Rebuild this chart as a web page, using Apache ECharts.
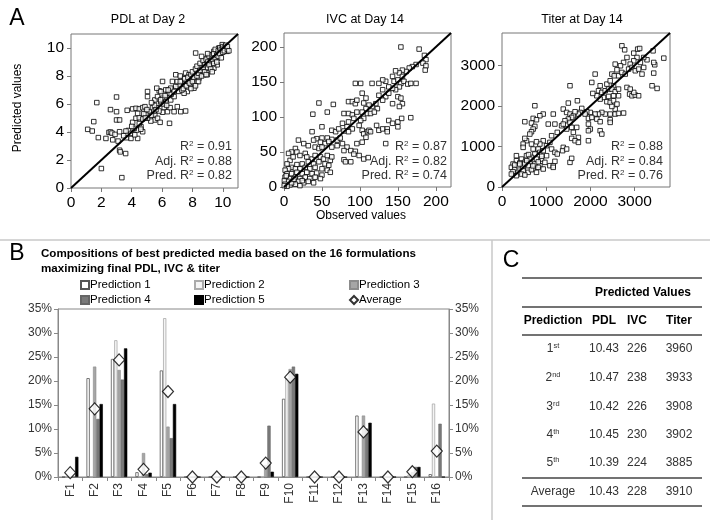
<!DOCTYPE html>
<html><head><meta charset="utf-8">
<script src="https://cdn.jsdelivr.net/npm/echarts@6/dist/echarts.min.js"></script>
<style>html,body{margin:0;padding:0;background:#fff}#c{width:710px;height:520px}</style>
</head><body><div id="c"></div>
<script>
const FONT = '"Liberation Sans", Arial, sans-serif';

// ---- Panel A data: [observed, predicted] ----
const pdlPoints = [
[1.7,6.1],[3.0,6.5],[2.6,5.6],[3.0,5.45],[3.0,4.86],[3.2,4.86],[1.5,4.74],[1.1,4.19],[1.4,4.07],[1.8,3.6],
[2.3,3.54],[2.5,3.97],[2.6,4.0],[2.7,3.92],[2.9,3.83],[3.2,4.02],[2.75,3.44],[3.1,3.35],[3.2,2.7],[3.6,2.46],
[3.25,2.58],[2.0,1.39],[3.35,0.74],[3.7,5.55],[4.06,5.65],[4.28,5.69],[4.5,5.65],[4.72,5.74],[4.87,5.81],[5.04,6.89],
[5.04,6.53],[5.15,5.45],[4.93,5.26],[4.35,4.14],[4.39,3.54],[3.95,3.54],[3.65,3.59],[3.78,4.11],[4.06,4.69],[4.28,4.98],
[4.5,5.02],[4.72,4.93],[4.61,4.38],[4.72,4.02],[4.17,4.26],[3.95,3.9],[3.62,4.07],[3.47,3.73],[4.39,5.33],[5.37,5.74],
[5.52,5.22],[5.52,4.86],[5.7,4.98],[5.65,6.05],[5.52,6.29],[5.7,6.53],[5.81,6.94],[5.65,7.13],[5.92,6.17],[6.03,6.41],
[6.14,5.74],[6.35,5.45],[6.53,5.74],[6.03,5.41],[5.26,4.78],[5.87,4.69],[5.48,5.5],[5.04,4.98],[6.35,6.65],[6.46,6.77],
[6.24,6.17],[6.57,6.29],[6.03,7.61],[6.68,7.61],[6.9,8.09],[6.75,7.01],[7.0,7.13],[6.79,6.53],[6.79,5.45],[7.0,5.81],
[7.23,5.45],[7.55,5.5],[6.49,4.62],[7.23,7.61],[7.34,7.25],[7.55,8.21],[7.66,7.85],[7.66,6.89],[7.45,6.77],[7.88,7.37],
[7.99,7.73],[8.21,8.09],[8.21,9.64],[8.32,7.61],[8.43,8.33],[8.1,7.13],[8.54,8.68],[8.65,8.21],[8.76,9.04],[8.86,8.56],
[8.97,9.28],[8.97,8.09],[9.08,8.8],[9.19,9.52],[9.3,9.04],[9.41,8.56],[9.52,9.76],[9.63,9.28],[9.74,10.0],[9.85,9.64],
[9.96,10.24],[10.07,9.88],[10.17,10.12],[10.28,9.76],[9.63,8.8],[9.41,9.76],[9.19,8.68],[8.76,8.09],[8.43,7.85],[7.77,8.09],
[7.45,7.85],[7.12,7.37],[6.9,7.25],[6.57,7.13],[6.24,7.01],[5.92,6.89],[4.0,4.4],[4.2,3.8],[4.5,4.6],[4.8,5.3],
[5.0,5.6],[5.3,5.2],[5.5,5.9],[5.8,5.5],[6.1,6.0],[6.3,5.9],[6.6,6.7],[6.8,6.9],[7.1,6.9],[7.3,7.0],
[7.0,7.6],[7.2,8.0],[7.5,7.3],[7.8,7.9],[8.0,8.0],[7.9,7.1],[7.6,7.6],[7.2,7.6],[7.4,7.1],[7.5,7.8],
[7.6,7.3],[7.7,7.9],[7.8,7.5],[7.9,8.1],[8.0,7.6],[8.0,8.3],[8.1,7.9],[8.2,8.5],[8.3,8.0],[8.3,8.7],
[8.4,8.2],[8.5,8.9],[8.5,8.4],[8.6,8.0],[8.7,8.6],[8.7,9.1],[8.8,8.3],[8.8,8.8],[8.9,9.2],[9.0,8.6],
[9.0,9.0],[9.1,9.4],[9.1,8.8],[9.2,9.1],[9.2,8.5],[9.3,9.5],[9.3,9.2],[9.4,8.9],[9.4,9.6],[9.5,9.3],
[9.5,9.9],[9.6,9.5],[9.6,9.0],[9.7,9.8],[9.7,9.4],[9.8,10.0],[9.8,9.6],[9.9,9.9],[9.9,9.3],[10.0,10.1],
[10.0,9.7],[10.1,10.0],[10.1,9.8],[10.2,10.2],[10.3,9.9],[10.3,10.1],[10.4,9.8],[9.0,9.6],[8.6,9.4],[8.9,8.1],
[9.3,8.3],[8.4,7.6],[8.2,7.3],[5.3,6.1],[5.9,6.3],[6.2,6.6],[6.4,7.0],[5.6,5.6],[4.9,5.0],[4.6,4.2]
];
const ivcPoints = [
[154,200],[178,197],[185,188],[187,182],[183,177],[187,173],[186,167],[174,175],[169,172],[165,170],
[161,165],[156,167],[152,163],[147,166],[143,158],[145,151],[150,153],[154,148],[158,151],[163,147],
[167,148],[174,148],[156,158],[152,143],[147,139],[143,141],[138,143],[134,151],[130,153],[125,148],
[130,139],[125,131],[134,129],[138,134],[150,129],[154,127],[156,119],[152,115],[143,119],[130,124],
[121,119],[123,112],[116,115],[112,117],[108,112],[110,105],[114,105],[119,107],[103,107],[105,98],
[101,95],[103,81],[105,76],[110,79],[112,81],[114,79],[108,71],[103,64],[122,88],[125,81],
[130,83],[136,83],[138,95],[143,91],[150,93],[155,98],[167,99],[150,86],[136,79],[134,62],
[105,40],[111,42],[105,120],[94,148],[101,148],[116,148],[103,134],[85,122],[90,122],[94,119],
[96,124],[108,127],[46,120],[65,118],[57,107],[38,104],[79,105],[85,105],[90,103],[96,107],
[77,91],[85,93],[92,98],[83,86],[90,83],[99,88],[50,86],[63,81],[68,79],[72,83],
[79,80],[85,79],[37,79],[57,70],[50,70],[63,68],[70,67],[74,70],[54,62],[59,65],
[43,69],[39,67],[48,64],[19,67],[26,62],[32,59],[41,57],[46,55],[50,57],[63,57],
[70,59],[77,62],[83,57],[88,52],[94,51],[79,52],[96,62],[79,39],[81,36],[88,36],
[92,47],[99,45],[15,55],[10,50],[6,48],[17,50],[8,38],[4,33],[12,43],[21,45],
[28,48],[30,43],[37,40],[41,45],[48,43],[52,40],[57,45],[61,38],[63,43],[54,33],
[46,36],[39,33],[32,36],[24,33],[17,32],[10,28],[6,26],[1.5,24],[15,26],[21,26],
[28,28],[34,26],[41,28],[50,26],[57,24],[59,31],[4,19],[10,19],[17,21],[24,19],
[30,21],[37,19],[43,20],[50,17],[61,21],[1.4,14],[8,12],[15,14],[21,12],[28,14],
[34,12],[41,14],[48,12],[0.5,9],[6,8],[12,7],[19,8],[26,6],[32,8],[1.4,4],
[8,3],[15,4],[21,2],[4,1],[0.3,2],[10,6],[39,6],[24,9],[3,16],[13,11]
];
const titerPoints = [
[2712,3484],[2775,3385],[2980,3303],[3069,3402],[3114,3418],[3417,3360],[3660,3180],[3455,3016],[3280,3139],[3205,3196],
[3130,3073],[3053,3196],[2980,3114],[2900,3032],[2826,3196],[2750,3073],[2680,2991],[2600,2892],[2560,3032],[2485,2786],
[2540,2744],[2636,2744],[2712,2827],[2788,2786],[2864,2909],[2940,2950],[3015,2868],[3090,2909],[3167,2786],[3205,2950],
[3432,2810],[3432,3073],[2107,2786],[2372,2539],[2447,2621],[2523,2498],[2220,2498],[2183,2375],[2258,2334],[2334,2375],
[2410,2416],[2485,2416],[2560,2350],[2636,2416],[2636,2251],[2523,2251],[2410,2235],[2296,2210],[2220,2169],[2145,2251],
[2031,2580],[2054,2309],[2826,2457],[2887,2292],[2940,2251],[3015,2268],[3090,2251],[2980,2334],[2900,2416],[3394,2498],
[3508,2432],[2372,2104],[2447,2087],[2523,2128],[2600,2046],[2560,1923],[2485,1988],[2560,1800],[2636,1816],[2750,1825],
[2447,1800],[2334,1800],[2447,1660],[2447,1594],[2258,1840],[2183,1800],[2107,1800],[1997,1840],[1917,1857],[1880,1800],
[1955,1693],[2031,1717],[2145,1676],[2220,1611],[1955,1553],[1997,1430],[1955,1389],[2220,1389],[2258,1306],[1804,1939],
[1766,1840],[1728,1800],[1705,2128],[1538,2498],[1500,2071],[1386,1923],[1462,1840],[1538,1800],[1614,1758],[1652,1857],
[1576,1717],[1500,1676],[1538,1594],[1424,1635],[1348,1512],[1462,1430],[1576,1471],[1690,1471],[1614,1348],[1728,1224],
[1576,1200],[1652,1142],[1728,1101],[1538,608],[1576,707],[1955,1142],[1386,978],[1371,896],[1462,937],[1160,1800],
[1046,1553],[1197,1553],[1386,1553],[1250,1348],[1122,1265],[1083,1101],[1008,1019],[932,1142],[856,1060],[780,1117],
[1122,937],[1197,855],[1250,814],[1083,526],[1159,526],[1197,633],[1159,485],[743,2005],[932,1800],[856,1758],
[705,1693],[780,1660],[516,1611],[667,1578],[743,1495],[705,1430],[667,1364],[630,1306],[554,1142],[516,1200],
[478,1060],[478,978],[667,1060],[705,937],[818,937],[856,855],[743,814],[932,896],[1008,773],[894,690],
[780,690],[667,731],[554,773],[440,690],[326,649],[402,592],[516,608],[630,608],[743,567],[856,526],
[970,608],[250,567],[212,485],[288,444],[364,526],[478,485],[592,526],[705,444],[818,485],[932,444],
[250,378],[364,362],[478,403],[592,362],[667,427],[780,362],[440,320],[516,296],[326,279],[212,320],
[402,567],[516,567],[630,690],[326,773],[288,542],[600,800],[560,650],[700,520],[820,620],[900,760]
];
const pdlMax = 11, ivcMax = 220, titerMax = 3800;
const panelTitles = ['PDL at Day 2', 'IVC at Day 14', 'Titer at Day 14'];
const pdlStats = ['0.91', '0.88', '0.82'];
const ivcStats = ['0.87', '0.82', '0.74'];
const titerStats = ['0.88', '0.84', '0.76'];

// ---- Panel B data (%) ----
const formulations = ['F1','F2','F3','F4','F5','F6','F7','F8','F9','F10','F11','F12','F13','F14','F15','F16'];
const pred1 = [0, 20.6, 24.6, 1.0, 22.2, 0, 0, 0, 0,   16.3, 0, 0, 12.8, 0, 0,   0.6];
const pred2 = [0, 0,    28.5, 0,   33.1, 0, 0, 0, 0,   20.6, 0, 0, 0,    0, 0.5, 15.3];
const pred3 = [0, 23.0, 22.3, 5.0, 10.5, 0, 0, 0, 2.5, 22.5, 0, 0, 12.8, 0, 1.0, 0];
const pred4 = [0, 12.1, 20.3, 0.6, 8.1,  0, 0, 0, 10.7,23.0, 0, 0, 10.1, 0, 2.1, 11.1];
const pred5 = [4.2,15.2,26.8, 0.9, 15.2, 0, 0, 0, 1.1, 21.5, 0, 0, 11.3, 0, 2.1, 0];
const avgComp = [0.9,14.2,24.4,1.6,17.8, 0, 0, 0, 2.9, 20.8, 0, 0, 9.4, 0, 1.1, 5.4];
const seriesNames = ['Prediction 1','Prediction 2','Prediction 3','Prediction 4','Prediction 5','Average'];

// ---- Panel C data ----
const tableRank = ['1','2','3','4','5'];
const tableSuffix = ['st','nd','rd','th','th'];
const tablePDL = ['10.43','10.47','10.42','10.45','10.39'];
const tableIVC = ['226','238','226','230','224'];
const tableTiter = ['3960','3933','3908','3902','3885'];
const tableAvg = ['10.43','228','3910'];

const chart = echarts.init(document.getElementById('c'), null, {renderer:'canvas'});

const tickLabel = {fontSize:15.5, color:'#000', fontFamily:FONT, margin:7, showMaxLabel:false,
  formatter: v => String(v)};
function scatterAxis(idx, max, interval) {
  return {type:'value', gridIndex:idx, min:0, max:max, interval:interval,
    axisLine:{show:false}, splitLine:{show:false},
    axisTick:{show:true, length:4, lineStyle:{color:'#777'}},
    axisLabel:tickLabel};
}
function scat(idx, pts) {
  return {type:'scatter', xAxisIndex:idx, yAxisIndex:idx, data:pts, symbol:'rect', symbolSize:4.5,
    itemStyle:{color:'#fff', borderColor:'#000', borderWidth:1}, silent:true, z:2};
}
function diag(idx, max) {
  return {type:'line', xAxisIndex:idx, yAxisIndex:idx, data:[[0,0],[max,max]], symbol:'none',
    lineStyle:{color:'#000', width:2}, silent:true, z:3};
}
function T(x, y, text, o) {
  return {type:'text', x:x, y:y, silent:true, z:10,
    style:Object.assign({text:text, fill:'#000', fontSize:12, fontFamily:FONT, align:'center', verticalAlign:'middle'}, o||{})};
}
function L(x1, y1, x2, y2, color, w) {
  return {type:'line', silent:true, z:10, shape:{x1:x1,y1:y1,x2:x2,y2:y2}, style:{stroke:color, lineWidth:w}};
}
const supRich = {t:{fontSize:12.5, fill:'#333', fontFamily:FONT, lineHeight:15}, s:{fontSize:8, fill:'#333', fontFamily:FONT, verticalAlign:'top', lineHeight:15}};
function statTexts(xr, vals) {
  const lab = ['', 'Adj. ', 'Pred. '];
  const ys = [147, 162, 176];
  return vals.map((v,i) => T(xr, ys[i], '{t|' + lab[i] + 'R}{s|2}{t| = ' + v + '}', {align:'right', rich:supRich}));
}

const barColors = [
  {color:'#ffffff', borderColor:'#555', borderWidth:0.8},
  {color:'#f4f4f4', borderColor:'#aaa', borderWidth:0.8},
  {color:'#a6a6a6', borderColor:'#8c8c8c', borderWidth:0.6},
  {color:'#7a7a7a', borderColor:'#666', borderWidth:0.6},
  {color:'#000000', borderColor:'#000', borderWidth:0.6}
];
const predData = [pred1, pred2, pred3, pred4, pred5];
const barSeries = predData.map((d,i) => ({
  name:seriesNames[i], type:'bar', xAxisIndex:3, yAxisIndex:3, data:d,
  barGap:'0%', barCategoryGap:'33%', itemStyle:barColors[i], silent:true
}));
barSeries.push({name:'Average', type:'scatter', xAxisIndex:3, yAxisIndex:3, data:avgComp,
  symbol:'diamond', symbolSize:[11,12], itemStyle:{color:'#fff', borderColor:'#000', borderWidth:1.2}, z:5, silent:true});

const legendPos = [[80,279],[194,279],[349,279],[80,294],[194,294],[349,294]];
const legends = seriesNames.map((n,i) => ({
  data:[{name:n, icon: n==='Average' ? 'diamond' : 'rect'}], left:legendPos[i][0], top:legendPos[i][1], padding:0,
  itemWidth:8, itemHeight:8, selectedMode:false,
  textStyle:{fontSize:11.5, color:'#000', fontFamily:FONT, padding:[0,0,0,-4]}
}));

const gray = '#888';
const pctAxis = (pos) => ({type:'value', gridIndex:3, position:pos, min:0, max:35, interval:5,
  axisLine:{show:true, lineStyle:{color:gray}}, splitLine:{show:false},
  axisTick:{show:true, length:4, lineStyle:{color:gray}},
  axisLabel:{fontSize:12, color:'#333', fontFamily:FONT, margin:6, formatter:'{value}%'}});

// table graphics
const tx = {pred:553, pdl:604, ivc:637, titer:679};
const rowY = [349, 378, 407, 435, 463];
const tableG = [];
[278, 307, 335, 478, 506].forEach(y => tableG.push(L(522, y, 702, y, '#444', 1.3)));
tableG.push(T(643, 293, 'Predicted Values', {fontWeight:'bold', fontSize:12}));
tableG.push(T(tx.pred, 321, 'Prediction', {fontWeight:'bold', fontSize:12}));
tableG.push(T(tx.pdl, 321, 'PDL', {fontWeight:'bold', fontSize:12}));
tableG.push(T(tx.ivc, 321, 'IVC', {fontWeight:'bold', fontSize:12}));
tableG.push(T(tx.titer, 321, 'Titer', {fontWeight:'bold', fontSize:12}));
const ordRich = {a:{fontSize:12, fill:'#333', fontFamily:FONT, lineHeight:14}, b:{fontSize:7.5, fill:'#333', fontFamily:FONT, verticalAlign:'top', lineHeight:14}};
tableRank.forEach((r,i) => {
  tableG.push(T(tx.pred, rowY[i], '{a|' + r + '}{b|' + tableSuffix[i] + '}', {rich:ordRich}));
  tableG.push(T(tx.pdl, rowY[i], tablePDL[i], {fill:'#333'}));
  tableG.push(T(tx.ivc, rowY[i], tableIVC[i], {fill:'#333'}));
  tableG.push(T(tx.titer, rowY[i], tableTiter[i], {fill:'#333'}));
});
tableG.push(T(tx.pred, 492, 'Average', {fill:'#333'}));
tableG.push(T(tx.pdl, 492, tableAvg[0], {fill:'#333'}));
tableG.push(T(tx.ivc, 492, tableAvg[1], {fill:'#333'}));
tableG.push(T(tx.titer, 492, tableAvg[2], {fill:'#333'}));

const graphics = [
  L(0, 240, 710, 240, '#c8c8c8', 1.5),
  L(492, 240, 492, 520, '#c8c8c8', 1.5),
  T(17, 19, 'A', {fontSize:23, align:'center'}),
  T(17, 254, 'B', {fontSize:23, align:'center'}),
  T(511, 261, 'C', {fontSize:23, align:'center'}),
  T(148, 20, panelTitles[0], {fontSize:12.5}),
  T(365, 20, panelTitles[1], {fontSize:12.5}),
  T(582, 20, panelTitles[2], {fontSize:12.5}),
  {type:'text', x:18, y:108, rotation:Math.PI/2, silent:true, z:10,
    style:{text:'Predicted values', fill:'#000', fontSize:12, fontFamily:FONT, align:'center', verticalAlign:'middle'}},
  T(361, 216, 'Observed values', {fontSize:12}),
  T(41, 254, 'Compositions of best predicted media based on the 16 formulations', {align:'left', fontWeight:'bold', fontSize:11.6}),
  T(41, 269, 'maximizing final PDL, IVC & titer', {align:'left', fontWeight:'bold', fontSize:11.6})
].concat(statTexts(232, pdlStats), statTexts(447, ivcStats), statTexts(663, titerStats), tableG);

const option = {
  animation:false,
  backgroundColor:'#fff',
  textStyle:{fontFamily:FONT},
  grid:[
    {left:71, top:34, width:167, height:154, show:true, borderColor:'#777', borderWidth:1, backgroundColor:'transparent'},
    {left:284, top:33, width:167, height:154, show:true, borderColor:'#777', borderWidth:1, backgroundColor:'transparent'},
    {left:502, top:33, width:168, height:154, show:true, borderColor:'#777', borderWidth:1, backgroundColor:'transparent'},
    {left:58, top:309, width:391, height:168, show:true, borderColor:gray, borderWidth:1, backgroundColor:'transparent'}
  ],
  xAxis:[
    scatterAxis(0, pdlMax, 2), scatterAxis(1, ivcMax, 50), scatterAxis(2, titerMax, 1000),
    {type:'category', gridIndex:3, data:formulations,
      axisLine:{show:true, lineStyle:{color:gray}},
      axisTick:{show:true, length:4, lineStyle:{color:gray}},
      axisLabel:{rotate:90, fontSize:12, color:'#333', fontFamily:FONT, margin:6}}
  ],
  yAxis:[
    scatterAxis(0, pdlMax, 2), scatterAxis(1, ivcMax, 50), scatterAxis(2, titerMax, 1000),
    pctAxis('left'), pctAxis('right')
  ],
  legend:legends,
  series:[
    scat(0, pdlPoints), diag(0, pdlMax),
    scat(1, ivcPoints), diag(1, ivcMax),
    scat(2, titerPoints), diag(2, titerMax)
  ].concat(barSeries),
  graphic:graphics
};
chart.setOption(option);
</script>
</body></html>
